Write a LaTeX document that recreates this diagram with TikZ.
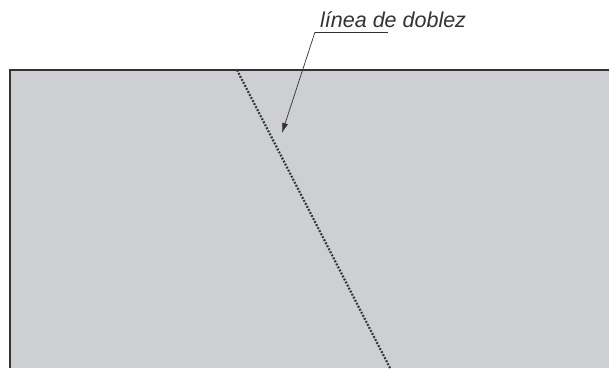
\documentclass[tikz,border=0pt]{standalone}
\usepackage{fontspec}
\setmainfont{Liberation Sans}
\usetikzlibrary{arrows.meta}
\definecolor{sheet}{RGB}{205,207,210}
\definecolor{ink}{RGB}{50,50,50}
\tikzset{
  edge/.style={draw=ink, line width=1.8pt},
  fold/.style={draw=ink, line width=2.2pt, dash pattern=on 1.8pt off 1.6pt},
  leader/.style={draw=ink, line width=0.7pt, -{Latex[length=10pt,width=6pt]}},
  lbl/.style={text=ink, font=\fontsize{21.5}{24}\selectfont\itshape, inner sep=0pt, anchor=base west}
}
\begin{document}
\begin{tikzpicture}[x=1pt,y=-1pt]
\useasboundingbox (0,0) rectangle (609,368);
\fill[sheet] (10,70) rectangle (609,368);
\draw[edge] (10,368) -- (10,70) -- (609,70);
\coordinate (ftop) at (237,70);
\coordinate (fbot) at (390,368);
\draw[fold] (ftop) -- (fbot);
\node[lbl] (label) at (320,27) {línea de doblez};
\coordinate (ul) at (315,32);
\coordinate (ur) at (388,32);
\coordinate (tip) at (282,133);
\draw[draw=ink, line width=0.7pt] (ur) -- (ul);
\draw[leader] (ul) -- (tip);
\end{tikzpicture}
\end{document}
